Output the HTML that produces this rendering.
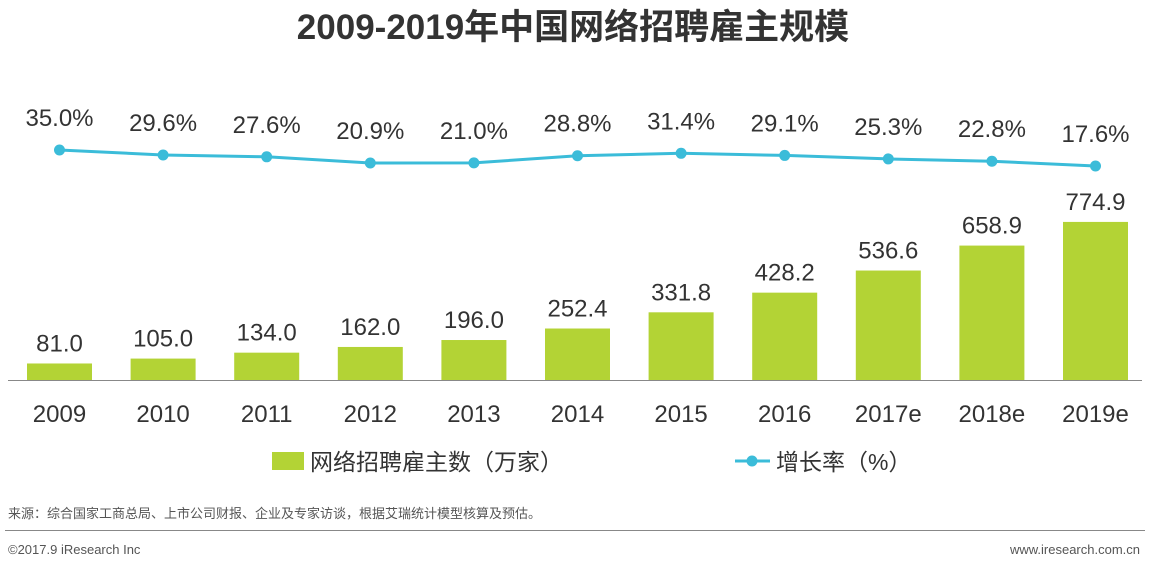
<!DOCTYPE html>
<html><head><meta charset="utf-8"><style>
body{margin:0;background:#fff;width:1150px;height:569px;overflow:hidden;font-family:"Liberation Sans","Noto Sans CJK SC",sans-serif}
</style></head><body>
<svg id="c" width="1150" height="569" xmlns="http://www.w3.org/2000/svg">
<text x="573" y="39" text-anchor="middle" font-size="35" font-weight="bold" fill="#333" font-family="Liberation Sans,Noto Sans CJK SC,sans-serif">2009-2019年中国网络招聘雇主规模</text>
<line x1="8" y1="380.5" x2="1142" y2="380.5" stroke="#888" stroke-width="1"/>
<g id="bars"></g><g id="line"></g>
<g>
<rect x="272" y="452" width="32" height="18" fill="#b3d335"/>
<text x="310" y="470" font-size="23" fill="#333" font-family="Liberation Sans,Noto Sans CJK SC,sans-serif">网络招聘雇主数（万家）</text>
<line x1="735" y1="461" x2="770" y2="461" stroke="#3bbcd9" stroke-width="3"/>
<circle cx="752" cy="461" r="5.5" fill="#3bbcd9"/>
<text x="776" y="470" font-size="23" fill="#333" font-family="Liberation Sans,Noto Sans CJK SC,sans-serif">增长率（%）</text>
</g>
<text x="8" y="518" font-size="13" fill="#555" font-family="Liberation Sans,Noto Sans CJK SC,sans-serif">来源：综合国家工商总局、上市公司财报、企业及专家访谈，根据艾瑞统计模型核算及预估。</text>
<line x1="5" y1="530.5" x2="1145" y2="530.5" stroke="#888"/>
<text x="8" y="554" font-size="13" fill="#555">©2017.9 iResearch Inc</text>
<text x="1140" y="554" font-size="13" fill="#555" text-anchor="end">www.iresearch.com.cn</text>
</svg>
<script>
const categories=["2009","2010","2011","2012","2013","2014","2015","2016","2017e","2018e","2019e"];
const employers=[81.0,105.0,134.0,162.0,196.0,252.4,331.8,428.2,536.6,658.9,774.9];
const growth=[35.0,29.6,27.6,20.9,21.0,28.8,31.4,29.1,25.3,22.8,17.6];
const NS="http://www.w3.org/2000/svg";
const xC=i=>59.5+i*103.6;
const yB=v=>380-v*0.204;
const yL=v=>182.2-v*0.92;
const F="Liberation Sans,Noto Sans CJK SC,sans-serif";
function mk(t,a,p){const e=document.createElementNS(NS,t);for(const k in a)e.setAttribute(k,a[k]);p.appendChild(e);return e;}
const gb=document.getElementById('bars'),gl=document.getElementById('line');
categories.forEach((c,i)=>{
 const r=mk('rect',{x:xC(i)-32.5,y:yB(employers[i]),width:65,height:380-yB(employers[i]),fill:'#b3d335'},gb);
 
 
 const t=mk('text',{x:xC(i),y:yB(employers[i])-12,'text-anchor':'middle','font-size':24,fill:'#333','font-family':F},gb);t.textContent=employers[i].toFixed(1);
 
 
 const x=mk('text',{x:xC(i),y:422,'text-anchor':'middle','font-size':24,fill:'#333','font-family':F},gb);x.textContent=c;
 
 
});
const pl=mk('polyline',{points:growth.map((v,i)=>xC(i)+','+yL(v)).join(' '),fill:'none',stroke:'#3bbcd9','stroke-width':3},gl);


growth.forEach((v,i)=>{
 const c=mk('circle',{cx:xC(i),cy:yL(v),r:5.5,fill:'#3bbcd9'},gl);
 
 
 const t=mk('text',{x:xC(i),y:yL(v)-24,'text-anchor':'middle','font-size':24,fill:'#333','font-family':F},gl);t.textContent=v.toFixed(1)+'%';
 
 
});
</script>
</body></html>
